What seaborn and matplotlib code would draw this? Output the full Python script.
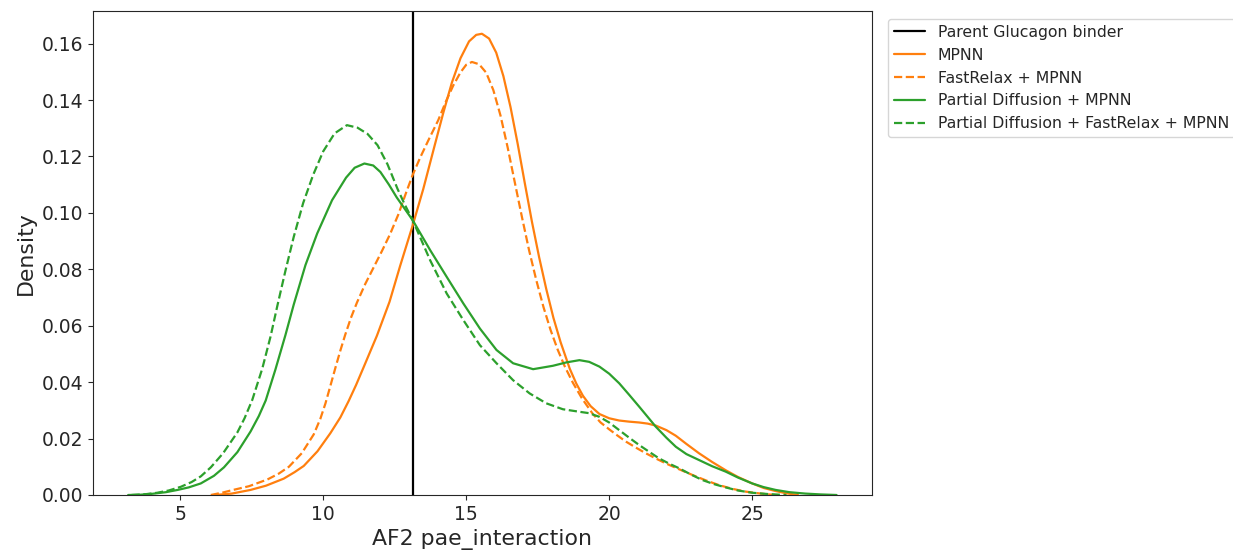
import matplotlib
matplotlib.use("Agg")
import matplotlib.pyplot as plt
import seaborn as sns
import pandas as pd

# Density curves of AF2 pae_interaction for each design protocol
mpnn_x = [6.2, 6.8, 7.46, 8.0, 8.62, 9.0, 9.32, 9.8, 10.25, 10.6, 10.89, 11.15, 11.41,
          11.88, 12.32, 12.69, 13.13, 13.5, 13.9, 14.2, 14.5, 14.8, 15.1, 15.35, 15.55,
          15.8, 16.05, 16.3, 16.55, 16.8, 17.05, 17.3, 17.55, 17.8, 18.05, 18.3, 18.62,
          18.85, 19.08, 19.35, 19.66, 20.0, 20.35, 20.7, 21.05, 21.35, 21.63, 22.0,
          22.33, 22.7, 23.14, 23.6, 24.07, 24.5, 25.0, 25.4, 25.82, 26.2, 26.6]
mpnn_y = [0.0, 0.0005, 0.0018, 0.0033, 0.0058, 0.0081, 0.0103, 0.0155, 0.0219, 0.0275,
          0.0333, 0.039, 0.0452, 0.0565, 0.0685, 0.0812, 0.0956, 0.1085, 0.124, 0.1355,
          0.1462, 0.1548, 0.1608, 0.1631, 0.1635, 0.1618, 0.1568, 0.1485, 0.1375,
          0.1245, 0.1105, 0.0968, 0.0843, 0.073, 0.0628, 0.0542, 0.0448, 0.0395, 0.0352,
          0.0315, 0.0287, 0.0272, 0.0264, 0.026, 0.0257, 0.0253, 0.0246, 0.023, 0.021,
          0.0181, 0.0148, 0.0117, 0.0088, 0.0064, 0.0041, 0.0025, 0.0014, 0.0006, 0.0]

fr_mpnn_x = [6.07, 6.5, 6.77, 7.4, 8.05, 8.45, 8.8, 9.25, 9.67, 9.9, 10.08, 10.26,
             10.43, 10.6, 10.77, 10.97, 11.18, 11.47, 11.76, 12.05, 12.34, 12.63, 12.9,
             13.13, 13.4, 13.7, 14.02, 14.3, 14.55, 14.8, 15.0, 15.2, 15.45, 15.7, 15.95,
             16.2, 16.45, 16.7, 16.95, 17.2, 17.45, 17.7, 17.95, 18.2, 18.45, 18.73,
             19.05, 19.43, 19.7, 20.01, 20.3, 20.59, 20.95, 21.28, 21.6, 21.98, 22.45,
             22.91, 23.4, 23.84, 24.3, 24.77, 25.3, 25.8]
fr_mpnn_y = [0.0, 0.0009, 0.0016, 0.0031, 0.0055, 0.0076, 0.0100, 0.0148, 0.0215, 0.027,
             0.0325, 0.039, 0.0452, 0.0512, 0.0568, 0.0628, 0.0682, 0.0748, 0.0806,
             0.0864, 0.0925, 0.0995, 0.1072, 0.1135, 0.1198, 0.1262, 0.1328, 0.1397,
             0.1452, 0.1498, 0.1525, 0.1535, 0.1527, 0.1497, 0.1435, 0.1345, 0.1232,
             0.1108, 0.0985, 0.0867, 0.0762, 0.0667, 0.0585, 0.0515, 0.0455, 0.0398,
             0.0342, 0.0287, 0.0257, 0.0232, 0.021, 0.0189, 0.0167, 0.0148, 0.0131,
             0.0112, 0.0091, 0.0071, 0.0051, 0.0035, 0.0022, 0.0012, 0.0005, 0.0]

pd_mpnn_x = [3.18, 3.6, 4.0, 4.5, 4.91, 5.3, 5.72, 6.18, 6.53, 7.0, 7.46, 7.75, 7.99,
             8.33, 8.68, 8.97, 9.38, 9.79, 10.31, 10.8, 11.1, 11.44, 11.75, 12.0, 12.3,
             12.57, 13.13, 13.74, 14.32, 14.9, 15.48, 16.06, 16.64, 17.34, 18.03, 18.5,
             18.96, 19.3, 19.66, 20.0, 20.35, 20.7, 21.05, 21.63, 22.0, 22.33, 22.7,
             23.14, 23.6, 24.07, 24.5, 25.0, 25.4, 25.82, 26.3, 26.86, 27.4, 27.95]
pd_mpnn_y = [0.0, 0.0001, 0.0004, 0.001, 0.0018, 0.0027, 0.0041, 0.0068, 0.0098, 0.0152,
             0.0225, 0.028, 0.0335, 0.0445, 0.0567, 0.0675, 0.0815, 0.0927, 0.1045,
             0.1125, 0.116, 0.1175, 0.1168, 0.1145, 0.110, 0.1055, 0.0974, 0.0868,
             0.0773, 0.0679, 0.059, 0.0514, 0.0467, 0.0446, 0.0458, 0.047, 0.0478,
             0.0472, 0.0455, 0.043, 0.0396, 0.0355, 0.0313, 0.0242, 0.0203, 0.0171,
             0.0145, 0.0124, 0.0102, 0.0083, 0.0062, 0.0041, 0.0028, 0.0018, 0.001,
             0.0005, 0.0002, 0.0]

pd_fr_mpnn_x = [3.3, 3.8, 4.2, 4.6, 5.02, 5.4, 5.72, 6.07, 6.5, 7.0, 7.25, 7.52, 7.87,
                8.16, 8.4, 8.68, 8.97, 9.3, 9.65, 10.0, 10.4, 10.83, 11.2, 11.55, 11.9,
                12.25, 12.6, 12.85, 13.13, 13.74, 14.32, 14.9, 15.48, 16.06, 16.64,
                17.22, 17.8, 18.38, 18.96, 19.3, 19.66, 20.0, 20.35, 20.7, 21.05, 21.4,
                21.74, 22.1, 22.44, 22.85, 23.26, 23.65, 24.07, 24.5, 25.0, 25.6, 26.2]
pd_fr_mpnn_y = [0.0, 0.0003, 0.0008, 0.0016, 0.0029, 0.0046, 0.0066, 0.0098, 0.0148,
                0.0222, 0.0272, 0.0337, 0.0448, 0.0562, 0.0672, 0.0795, 0.0915, 0.1035,
                0.1135, 0.1218, 0.1282, 0.1311, 0.1302, 0.128, 0.124, 0.1172, 0.1085,
                0.103, 0.0974, 0.0832, 0.0714, 0.062, 0.0531, 0.0467, 0.0407, 0.036,
                0.0325, 0.0304, 0.0295, 0.029, 0.0277, 0.0257, 0.023, 0.0203, 0.0177,
                0.0153, 0.013, 0.0111, 0.0095, 0.0073, 0.0053, 0.0039, 0.0027, 0.0016,
                0.0008, 0.0003, 0.0]

parent_pae = 13.13

series = [
    ("MPNN", mpnn_x, mpnn_y, "#ff7f0e", "-"),
    ("FastRelax + MPNN", fr_mpnn_x, fr_mpnn_y, "#ff7f0e", "--"),
    ("Partial Diffusion + MPNN", pd_mpnn_x, pd_mpnn_y, "#2ca02c", "-"),
    ("Partial Diffusion + FastRelax + MPNN", pd_fr_mpnn_x, pd_fr_mpnn_y, "#2ca02c", "--"),
]

sns.set_style("ticks")
plt.rcParams["font.family"] = ["DejaVu Sans"]

fig = plt.figure(figsize=(12.33, 5.54), dpi=100)
ax = fig.add_axes([0.0752, 0.1065, 0.632, 0.8742])

ax.axvline(parent_pae, color="black", lw=1.6, label="Parent Glucagon binder")
for name, xs, ys, color, ls in series:
    df = pd.DataFrame({"x": xs, "y": ys})
    sns.lineplot(data=df, x="x", y="y", ax=ax, color=color, linestyle=ls,
                 lw=1.6, label=name, estimator=None, sort=False)

ax.margins(x=0.05, y=0.05)
ax.set_ylim(0, None)
ax.set_xlabel("AF2 pae_interaction", fontsize=15.8)
ax.set_ylabel("Density", fontsize=15.8)
ax.tick_params(labelsize=13.5)
ax.set_xticks([5, 10, 15, 20, 25])

ax.legend(loc="upper left", bbox_to_anchor=(1.01, 1), fontsize=11.3, frameon=True)

fig.savefig("out.png", dpi=100)
